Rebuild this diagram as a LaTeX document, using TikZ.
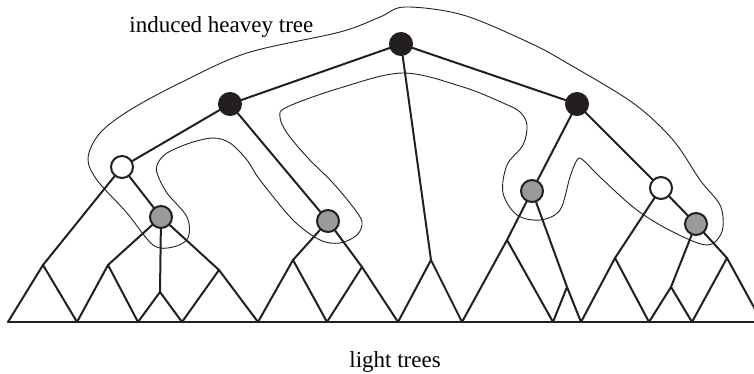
\documentclass[tikz,border=0pt]{standalone}
\usepackage{fontspec}
\setmainfont{Liberation Serif}
\definecolor{heavyblack}{HTML}{231F20}
\definecolor{lightgray}{HTML}{9A9A9A}
\tikzset{
  vertex/.style={circle, draw=heavyblack, line width=1pt, minimum size=11pt, inner sep=0pt},
  blackvertex/.style={vertex, fill=heavyblack},
  whitevertex/.style={vertex, fill=white},
  grayvertex/.style={vertex, fill=lightgray},
  edge/.style={draw=heavyblack, line width=1pt, line cap=round, line join=round},
  outline/.style={draw=heavyblack, line width=0.45pt}
}
\begin{document}
\begin{tikzpicture}[x=0.5pt, y=-0.5pt, font=\fontsize{11.5}{14}\selectfont]
      \clip (0,0) rectangle (754,374);
      \path
        (8,322) coordinate (b0)
        (77,322) coordinate (b1)
        (138,322) coordinate (b2)
        (182,322) coordinate (b3)
        (258,322) coordinate (b4)
        (327,322) coordinate (b5)
        (398,322) coordinate (b6)
        (462,322) coordinate (b7)
        (553,322) coordinate (b8)
        (581,322) coordinate (b9)
        (649,322) coordinate (b10)
        (692,322) coordinate (b11)
        (762,322) coordinate (b12)
        (754,322) coordinate (bend)
        (43,265) coordinate (p1)
        (108,265) coordinate (p2)
        (160,292) coordinate (p3)
        (219,270) coordinate (p4)
        (293,260) coordinate (p5)
        (362,267) coordinate (p6)
        (431,260) coordinate (p7)
        (507,240) coordinate (p8)
        (567,287) coordinate (p9)
        (615,258) coordinate (p10)
        (671,287) coordinate (p11)
        (727,258) coordinate (p12);
      \draw[outline] plot[smooth cycle, tension=0.55] coordinates {
        (405,7) (463,15) (530,43) (567,63) (633,103) (673,140) (700,180)
        (720,205) (723,227) (717,240) (707,245) (690,240) (660,225)
        (633,207) (600,177) (583,160) (577,160) (570,177) (560,210)
        (540,220) (517,215) (503,193) (507,165) (523,145) (527,125)
        (520,112) (503,103) (463,87) (403,73) (340,88) (287,107)
        (280,117) (287,133) (307,157) (333,183) (353,207) (362,222)
        (357,235) (340,243) (320,240) (293,220) (260,180) (247,160)
        (230,143) (213,138) (190,143) (167,153) (158,163) (157,173)
        (167,193) (187,217) (188,238) (173,247) (153,245) (127,213)
        (97,180) (88,158) (100,133) (130,110) (180,83) (247,53)
        (340,32) (380,17)};
      \path
        (401,44) node[blackvertex] (r){}
        (230,104) node[blackvertex] (a){}
        (577,104) node[blackvertex] (b){}
        (122,167) node[whitevertex] (c){}
        (161,217) node[grayvertex] (d){}
        (328,221) node[grayvertex] (e){}
        (532,191) node[grayvertex] (f){}
        (661,188) node[whitevertex] (g){}
        (696,224) node[grayvertex] (h){};
      \begin{scope}[edge]
        \draw (r) to (a);
        \draw (r) to (b);
        \draw (r) to (p7);
        \draw (a) to (c);
        \draw (a) to (e);
        \draw (b) to (f);
        \draw (b) to (g);
        \draw (c) to (p1);
        \draw (c) to (d);
        \draw (d) to (p2);
        \draw (d) to (p3);
        \draw (d) to (p4);
        \draw (e) to (p5);
        \draw (e) to (p6);
        \draw (f) to (p8);
        \draw (f) to (p9);
        \draw (g) to (p10);
        \draw (g) to (h);
        \draw (h) to (p11);
        \draw (h) to (p12);
        \draw (b0) -- (p1) -- (b1);
        \draw (b1) -- (p2) -- (b2);
        \draw (b2) -- (p3) -- (b3);
        \draw (b3) -- (p4) -- (b4);
        \draw (b4) -- (p5) -- (b5);
        \draw (b5) -- (p6) -- (b6);
        \draw (b6) -- (p7) -- (b7);
        \draw (b7) -- (p8) -- (b8);
        \draw (b8) -- (p9) -- (b9);
        \draw (b9) -- (p10) -- (b10);
        \draw (b10) -- (p11) -- (b11);
        \draw (b11) -- (p12) -- (b12);
        \draw (b0) to (bend);
      \end{scope}
      \node[anchor=base west, inner sep=0pt] (heavylabel) at (129,33) {induced heavey tree};
      \node[anchor=base west, inner sep=0pt] (lightlabel) at (349,367) {light trees};
    \end{tikzpicture}
\end{document}
